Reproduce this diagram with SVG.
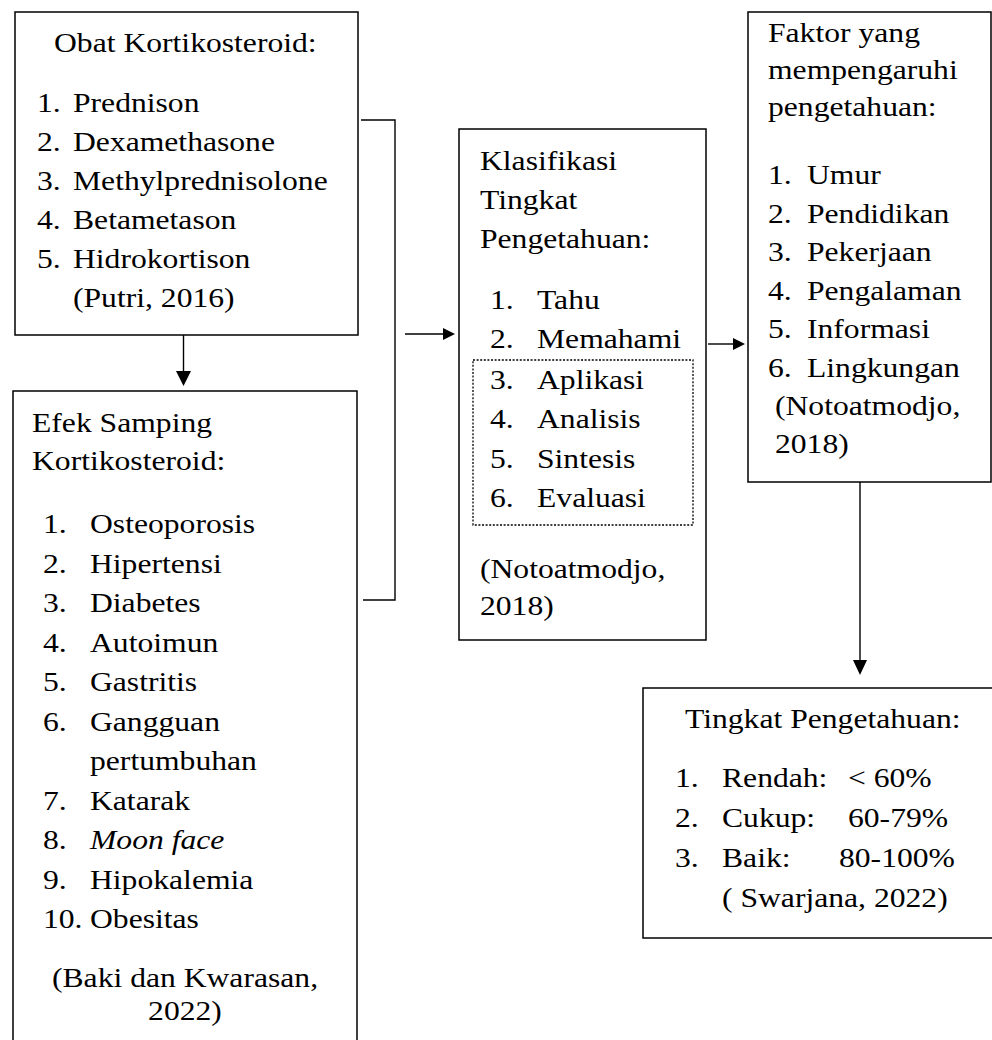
<svg xmlns="http://www.w3.org/2000/svg" width="992" height="1040" viewBox="0 0 992 1040">
<style>
.t{font-size:28px;fill:#000}
.c{text-anchor:middle}
.i{font-style:italic}
.box{fill:#fff;stroke:#000;stroke-width:1.5}
.dot{fill:none;stroke:#000;stroke-width:1.3;stroke-dasharray:2 1.6}
.ln{fill:none;stroke:#000;stroke-width:1.4}
.ah{fill:#000;stroke:none}
</style>
<rect width="992" height="1040" fill="#fff"/>

<g id="connectors">
  <line class="ln" x1="183.5" y1="335" x2="183.5" y2="373"/>
  <polygon class="ah" points="176,371 191,371 183.5,386"/>
  <polyline class="ln" points="361,120 395,120 395,600 363,600"/>
  <line class="ln" x1="405" y1="334" x2="445" y2="334"/>
  <polygon class="ah" points="443,328 455,334 443,340"/>
  <line class="ln" x1="708" y1="344" x2="735" y2="344"/>
  <polygon class="ah" points="733,338 745,344 733,350"/>
  <line class="ln" x1="860" y1="482" x2="860" y2="662"/>
  <polygon class="ah" points="853,660 867,660 860,675"/>
</g>

<g font-family="Liberation Serif, Times New Roman, Times, serif">
<g id="obat">
  <rect class="box" x="15" y="12" width="343" height="323"/>
  <text class="t" transform="translate(54 52) scale(1.13 1)">Obat Kortikosteroid:</text>
  <text class="t" transform="translate(37 112) scale(1.13 1)">1.</text>
  <text class="t" transform="translate(73 112) scale(1.13 1)">Prednison</text>
  <text class="t" transform="translate(37 151) scale(1.13 1)">2.</text>
  <text class="t" transform="translate(73 151) scale(1.13 1)">Dexamethasone</text>
  <text class="t" transform="translate(37 190) scale(1.13 1)">3.</text>
  <text class="t" transform="translate(73 190) scale(1.13 1)">Methylprednisolone</text>
  <text class="t" transform="translate(37 229) scale(1.13 1)">4.</text>
  <text class="t" transform="translate(73 229) scale(1.13 1)">Betametason</text>
  <text class="t" transform="translate(37 268) scale(1.13 1)">5.</text>
  <text class="t" transform="translate(73 268) scale(1.13 1)">Hidrokortison</text>
  <text class="t" transform="translate(73 307) scale(1.13 1)">(Putri, 2016)</text>
</g>

<g id="efek">
  <rect class="box" x="13" y="391" width="344" height="660"/>
  <text class="t" transform="translate(32 432) scale(1.13 1)">Efek Samping</text>
  <text class="t" transform="translate(32 470) scale(1.13 1)">Kortikosteroid:</text>
  <text class="t" transform="translate(43 533) scale(1.13 1)">1.</text>
  <text class="t" transform="translate(90 533) scale(1.13 1)">Osteoporosis</text>
  <text class="t" transform="translate(43 572.5) scale(1.13 1)">2.</text>
  <text class="t" transform="translate(90 572.5) scale(1.13 1)">Hipertensi</text>
  <text class="t" transform="translate(43 612) scale(1.13 1)">3.</text>
  <text class="t" transform="translate(90 612) scale(1.13 1)">Diabetes</text>
  <text class="t" transform="translate(43 651.5) scale(1.13 1)">4.</text>
  <text class="t" transform="translate(90 651.5) scale(1.13 1)">Autoimun</text>
  <text class="t" transform="translate(43 691) scale(1.13 1)">5.</text>
  <text class="t" transform="translate(90 691) scale(1.13 1)">Gastritis</text>
  <text class="t" transform="translate(43 730.5) scale(1.13 1)">6.</text>
  <text class="t" transform="translate(90 730.5) scale(1.13 1)">Gangguan</text>
  <text class="t" transform="translate(90 770) scale(1.13 1)">pertumbuhan</text>
  <text class="t" transform="translate(43 809.5) scale(1.13 1)">7.</text>
  <text class="t" transform="translate(90 809.5) scale(1.13 1)">Katarak</text>
  <text class="t" transform="translate(43 849) scale(1.13 1)">8.</text>
  <text class="t i" transform="translate(90 849) scale(1.13 1)">Moon face</text>
  <text class="t" transform="translate(43 888.5) scale(1.13 1)">9.</text>
  <text class="t" transform="translate(90 888.5) scale(1.13 1)">Hipokalemia</text>
  <text class="t" transform="translate(43 928) scale(1.13 1)">10.</text>
  <text class="t" transform="translate(90 928) scale(1.13 1)">Obesitas</text>
  <text class="t c" transform="translate(185 987) scale(1.13 1)">(Baki dan Kwarasan,</text>
  <text class="t c" transform="translate(185 1020) scale(1.13 1)">2022)</text>
</g>

<g id="klasifikasi">
  <rect class="box" x="459" y="129" width="247" height="511"/>
  <text class="t" transform="translate(480 170) scale(1.13 1)">Klasifikasi</text>
  <text class="t" transform="translate(480 209) scale(1.13 1)">Tingkat</text>
  <text class="t" transform="translate(480 248) scale(1.13 1)">Pengetahuan:</text>
  <text class="t" transform="translate(490 309) scale(1.13 1)">1.</text>
  <text class="t" transform="translate(537 309) scale(1.13 1)">Tahu</text>
  <text class="t" transform="translate(490 348) scale(1.13 1)">2.</text>
  <text class="t" transform="translate(537 348) scale(1.13 1)">Memahami</text>
  <rect class="dot" x="473" y="360" width="220" height="165"/>
  <text class="t" transform="translate(490 388.5) scale(1.13 1)">3.</text>
  <text class="t" transform="translate(537 388.5) scale(1.13 1)">Aplikasi</text>
  <text class="t" transform="translate(490 428) scale(1.13 1)">4.</text>
  <text class="t" transform="translate(537 428) scale(1.13 1)">Analisis</text>
  <text class="t" transform="translate(490 467.5) scale(1.13 1)">5.</text>
  <text class="t" transform="translate(537 467.5) scale(1.13 1)">Sintesis</text>
  <text class="t" transform="translate(490 507) scale(1.13 1)">6.</text>
  <text class="t" transform="translate(537 507) scale(1.13 1)">Evaluasi</text>
  <text class="t" transform="translate(480 578) scale(1.13 1)">(Notoatmodjo,</text>
  <text class="t" transform="translate(480 615) scale(1.13 1)">2018)</text>
</g>

<g id="faktor">
  <rect class="box" x="748" y="12" width="243" height="470"/>
  <text class="t" transform="translate(768 42) scale(1.13 1)">Faktor yang</text>
  <text class="t" transform="translate(768 79) scale(1.13 1)">mempengaruhi</text>
  <text class="t" transform="translate(768 116) scale(1.13 1)">pengetahuan:</text>
  <text class="t" transform="translate(768 184) scale(1.13 1)">1.</text>
  <text class="t" transform="translate(807 184) scale(1.13 1)">Umur</text>
  <text class="t" transform="translate(768 222.5) scale(1.13 1)">2.</text>
  <text class="t" transform="translate(807 222.5) scale(1.13 1)">Pendidikan</text>
  <text class="t" transform="translate(768 261) scale(1.13 1)">3.</text>
  <text class="t" transform="translate(807 261) scale(1.13 1)">Pekerjaan</text>
  <text class="t" transform="translate(768 299.5) scale(1.13 1)">4.</text>
  <text class="t" transform="translate(807 299.5) scale(1.13 1)">Pengalaman</text>
  <text class="t" transform="translate(768 338) scale(1.13 1)">5.</text>
  <text class="t" transform="translate(807 338) scale(1.13 1)">Informasi</text>
  <text class="t" transform="translate(768 376.5) scale(1.13 1)">6.</text>
  <text class="t" transform="translate(807 376.5) scale(1.13 1)">Lingkungan</text>
  <text class="t" transform="translate(775 415) scale(1.13 1)">(Notoatmodjo,</text>
  <text class="t" transform="translate(775 453) scale(1.13 1)">2018)</text>
</g>

<g id="tingkat">
  <rect class="box" x="643" y="688" width="355" height="250"/>
  <text class="t" transform="translate(685 728) scale(1.13 1)">Tingkat Pengetahuan:</text>
  <text class="t" transform="translate(675 787) scale(1.13 1)">1.</text>
  <text class="t" transform="translate(722 787) scale(1.13 1)">Rendah:</text>
  <text class="t" transform="translate(848 787) scale(1.13 1)">&lt; 60%</text>
  <text class="t" transform="translate(675 827) scale(1.13 1)">2.</text>
  <text class="t" transform="translate(722 827) scale(1.13 1)">Cukup:</text>
  <text class="t" transform="translate(848 827) scale(1.13 1)">60-79%</text>
  <text class="t" transform="translate(675 867) scale(1.13 1)">3.</text>
  <text class="t" transform="translate(722 867) scale(1.13 1)">Baik:</text>
  <text class="t" transform="translate(839 867) scale(1.13 1)">80-100%</text>
  <text class="t" transform="translate(722 907) scale(1.13 1)">( Swarjana, 2022)</text>
</g>
</g>
</svg>
